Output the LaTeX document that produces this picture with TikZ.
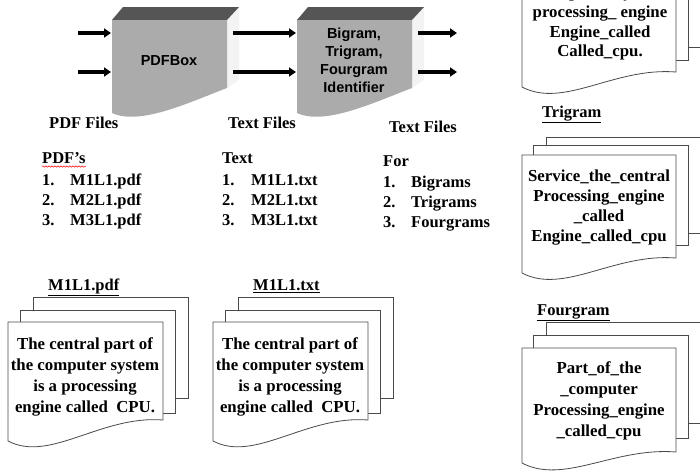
\documentclass[tikz,border=0pt]{standalone}
\usepackage{fontspec}
\setmainfont{Liberation Serif}
\setsansfont{Liberation Sans}
\usetikzlibrary{arrows.meta,decorations.pathmorphing}

\definecolor{boxgray}{HTML}{ABABAB}
\definecolor{boxdark}{HTML}{555555}
\definecolor{boxside}{HTML}{F3F3F3}
\definecolor{sheetline}{HTML}{4A4A4A}

\tikzset{
  frontface/.style={fill=boxgray},
  topface/.style={fill=boxdark},
  sideface/.style={fill=boxside},
  flow/.style={line width=3.2pt,-{Triangle[length=7pt,width=9pt]}},
  sheet/.style={draw=sheetline,fill=white,line width=0.8pt},
  boxlabel/.style={font=\sffamily\bfseries\fontsize{14.5}{18}\selectfont,align=center,inner sep=0pt},
  heading/.style={font=\bfseries\fontsize{16.5}{20}\selectfont,anchor=base west,inner sep=0pt},
  pagetext/.style={font=\bfseries\fontsize{16.8}{21}\selectfont,align=center,inner sep=0pt},
}

\begin{document}
\begin{tikzpicture}[x=1pt,y=-1pt]
\useasboundingbox (0,0) rectangle (700,474);

% ---- processing boxes (3D blocks with a wavy lower edge) ----
\foreach \dx/\nm in {0/pdfbox,185/ngram}{
  \begin{scope}[shift={(\dx,0)}]
    \path[sideface] (227,20) -- (239,7) -- (239,80) -- (227,88) -- cycle;
    \path[topface] (112,20) -- (123,7) -- (239,7) -- (227,20) -- cycle;
    \path[frontface] (112,20) -- (227,20) -- (227,88)
      .. controls (190,102) and (140,126) .. (112,113) -- cycle;
    \coordinate (\nm-in1) at (111,33);
    \coordinate (\nm-in2) at (111,72);
    \coordinate (\nm-out1) at (233,33);
    \coordinate (\nm-out2) at (233,72);
  \end{scope}
}
\node[boxlabel] (pdfboxlabel) at (169,61) {PDFBox};
\node[boxlabel] (ngramlabel) at (354,60.5) {Bigram,\\Trigram,\\Fourgram\\Identifier};

% ---- flow arrows ----
\coordinate (src1) at (78,33);
\coordinate (src2) at (78,72);
\coordinate (dst1) at (457,33);
\coordinate (dst2) at (457,72);
\draw[flow] (src1) -- (pdfbox-in1);
\draw[flow] (src2) -- (pdfbox-in2);
\draw[flow] (pdfbox-out1) -- (ngram-in1);
\draw[flow] (pdfbox-out2) -- (ngram-in2);
\draw[flow] (ngram-out1) -- (dst1);
\draw[flow] (ngram-out2) -- (dst2);

% ---- column headings ----
\node[heading] (h1) at (49,128.5) {PDF Files};
\node[heading] (h2) at (228,128.5) {Text Files};
\node[heading] (h3) at (389,132.5) {Text Files};

% ---- file lists ----
\node[heading] (l1t) at (42,163.5) {PDF’s};
\draw[red,line width=0.5pt,decorate,decoration={snake,amplitude=0.7pt,segment length=3pt}]
  ([yshift=-3pt]l1t.base west) -- ([yshift=-3pt]l1t.base east);
\foreach \i/\f [count=\k] in {185.5/M1L1.pdf,205.5/M2L1.pdf,225.5/M3L1.pdf}{
  \node[heading] (l1n\k) at (42,\i) {\k.};
  \node[heading] (l1f\k) at (70,\i) {\f};
}
\node[heading] (l2t) at (222,163.5) {Text};
\foreach \i/\f [count=\k] in {185.5/M1L1.txt,205.5/M2L1.txt,225.5/M3L1.txt}{
  \node[heading] (l2n\k) at (222,\i) {\k.};
  \node[heading] (l2f\k) at (251,\i) {\f};
}
\node[heading] (l3t) at (383,166) {For};
\foreach \i/\f [count=\k] in {187/Bigrams,207/Trigrams,227/Fourgrams}{
  \node[heading] (l3n\k) at (383,\i) {\k.};
  \node[heading] (l3f\k) at (411,\i) {\f};
}

% ---- document stacks: PDF and text ----
\foreach \dx/\nm/\lab in {0/pdfdoc/M1L1.pdf,205/txtdoc/M1L1.txt}{
  \begin{scope}[shift={(\dx,0)}]
    \draw[sheet] (33,297) rectangle (188,398);
    \draw[sheet] (20,310) rectangle (175,413);
    \draw[sheet] (8,322) -- (163,322) -- (163,420)
      .. controls (101,415) and (50,463) .. (8,441) -- cycle;
    \node[heading] (\nm-title) at (48,290.5) {\underline{\lab}};
    \node[pagetext] (\nm-body) at (85,376.5)
      {The central part of\\the computer system\\is a processing\\engine called\ \ CPU.};
  \end{scope}
}

% ---- document stacks: n-gram outputs ----
% bigrams (cut by the top edge)
\draw[sheet] (546,-60) rectangle (712,47);
\draw[sheet] (533,-60) rectangle (688,60);
\draw[sheet] (522,-60) -- (676,-60) -- (676,72)
  .. controls (614,67) and (564,109) .. (522,87) -- cycle;
\node[pagetext,font=\bfseries\fontsize{16.8}{19.7}\selectfont] (bigram-body) at (600,23.5)
  {Computer\_system\\processing\_ engine\\Engine\_called\\Called\_cpu.};

% trigrams
\node[heading] (trigram-title) at (542,117) {\underline{Trigram}};
\draw[sheet] (546,137) rectangle (712,233);
\draw[sheet] (533,145) rectangle (688,245);
\draw[sheet] (522,155) -- (676,155) -- (676,258)
  .. controls (614,253) and (564,295) .. (522,273) -- cycle;
\node[pagetext,font=\bfseries\fontsize{16.8}{20}\selectfont] (trigram-body) at (599,208)
  {Service\_the\_central\\Processing\_engine\\\_called\\Engine\_called\_cpu};

% fourgrams
\node[heading] (fourgram-title) at (537,315) {\underline{Fourgram}};
\draw[sheet] (546,322) rectangle (712,423);
\draw[sheet] (533,335) rectangle (688,438);
\draw[sheet] (522,348) -- (676,348) -- (676,452)
  .. controls (614,447) and (564,485) .. (522,463) -- cycle;
\node[pagetext] (fourgram-body) at (599,401)
  {Part\_of\_the\\\_computer\\Processing\_engine\\\_called\_cpu};
\end{tikzpicture}
\end{document}
